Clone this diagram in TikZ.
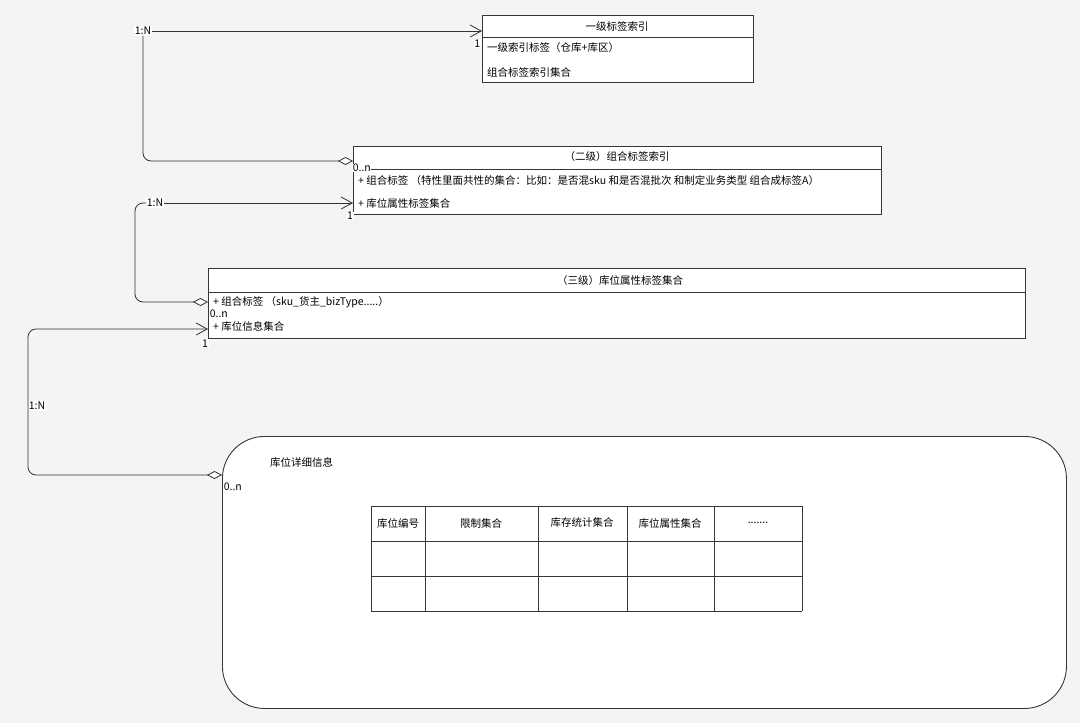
\documentclass[tikz,border=0pt]{standalone}
\usepackage{fontspec}
\setmainfont{Noto Sans CJK SC}
\usepackage{xcolor}
\usepackage{tikz}
\usetikzlibrary{arrows.meta,positioning,calc}
\definecolor{bggray}{HTML}{F4F4F4}
\definecolor{edge}{HTML}{363636}
\newcommand{\celldots}{.......}
\tikzset{
  cls/.style={rectangle,draw=edge,fill=white,line width=.9pt,anchor=north west,inner sep=0pt},
  sep/.style={draw=edge,line width=.9pt},
  ttl/.style={font=\fontsize{10.5}{12}\selectfont,inner sep=1pt},
  row/.style={font=\fontsize{10.5}{12}\selectfont,anchor=west,inner sep=1pt},
  lab/.style={font=\fontsize{10.5}{12}\selectfont,fill=white,inner sep=.6pt},
  link/.style={line width=.8pt,black!80,rounded corners=8pt},
  nav/.style={link,-{Straight Barb[length=11pt,width=12pt]}},
  agg/.style={link,-{Diamond[open,fill=white,length=15pt,width=8pt]}}
}
\begin{document}
\begin{tikzpicture}[x=1pt,y=-1pt]
  \fill[bggray] (0,0) rectangle (1080,723);
  \useasboundingbox (0,0) rectangle (1080,723);

  % level one
  \node[cls,minimum width=271,minimum height=67] (b1) at (482,15) {};
  \draw[sep] (b1.west |- 0,37) -- (b1.east |- 0,37);
  \node[ttl] (b1t) at (617,26) {一级标签索引};
  \node[row] (b1r1) at (486,48) {一级索引标签（仓库+库区）};
  \node[row] (b1r2) at (486,72) {组合标签索引集合};

  % level two
  \node[cls,minimum width=528,minimum height=68] (b2) at (353,146) {};
  \draw[sep] (b2.west |- 0,169) -- (b2.east |- 0,169);
  \node[ttl] (b2t) at (617,157) {（二级）组合标签索引};
  \node[row] (b2r1) at (357,181) {+ 组合标签 （特性里面共性的集合：比如：是否混sku 和是否混批次 和制定业务类型 组合成标签A）};
  \node[row] (b2r2) at (357,203) {+ 库位属性标签集合};

  % level three
  \node[cls,minimum width=817,minimum height=70] (b3) at (208,268) {};
  \draw[sep] (b3.west |- 0,292) -- (b3.east |- 0,292);
  \node[ttl] (b3t) at (620,281) {（三级）库位属性标签集合};
  \node[row] (b3r1) at (212,302) {+ 组合标签 （sku\_货主\_bizType.....）};
  \node[row] (b3r2) at (212,326) {+ 库位信息集合};

  % detail
  \node[cls,rounded corners=42pt,minimum width=844,minimum height=272] (b4) at (222,436) {};
  \node[row] (b4t) at (269,462) {库位详细信息};
  \foreach \x in {371,425,538,627,714,802}
    \draw[sep] (\x,506) -- (\x,611);
  \foreach \y in {506,541,576,611}
    \draw[sep] (371,\y) -- (802,\y);
  \foreach \cx/\t [count=\i] in {398/库位编号,481/限制集合,582/库存统计集合,670/库位属性集合,758/\celldots}
    \node[ttl] (h\i) at (\cx,523) {\t};

  % links
  \node[lab] (n1) at (143,31) {1:N};
  \draw[nav] (n1.east) -- (b1.west |- n1.east);
  \draw[agg] (n1.south) |- (b2.west |- 0,161);
  \node[lab,anchor=east] (c1) at (481,44) {1};
  \node[lab,anchor=west] (c2) at (352,168) {0..n};

  \node[lab] (n2) at (155,203) {1:N};
  \draw[nav] (n2.east) -- (b2.west |- n2.east);
  \draw[agg] (n2.west) -| (135,302) -- (b3.west |- 0,302);
  \node[lab] (c3) at (350,216) {1};
  \node[lab,anchor=west] (c4) at (209,314) {0..n};

  \node[lab,anchor=west] (n3) at (28,406) {1:N};
  \draw[nav] (n3.west) |- (b3.west |- 0,329);
  \draw[agg] (n3.west) |- (b4.west |- 0,475);
  \node[lab] (c5) at (205,344) {1};
  \node[lab,anchor=west] (c6) at (223,487) {0..n};
\end{tikzpicture}
\end{document}
